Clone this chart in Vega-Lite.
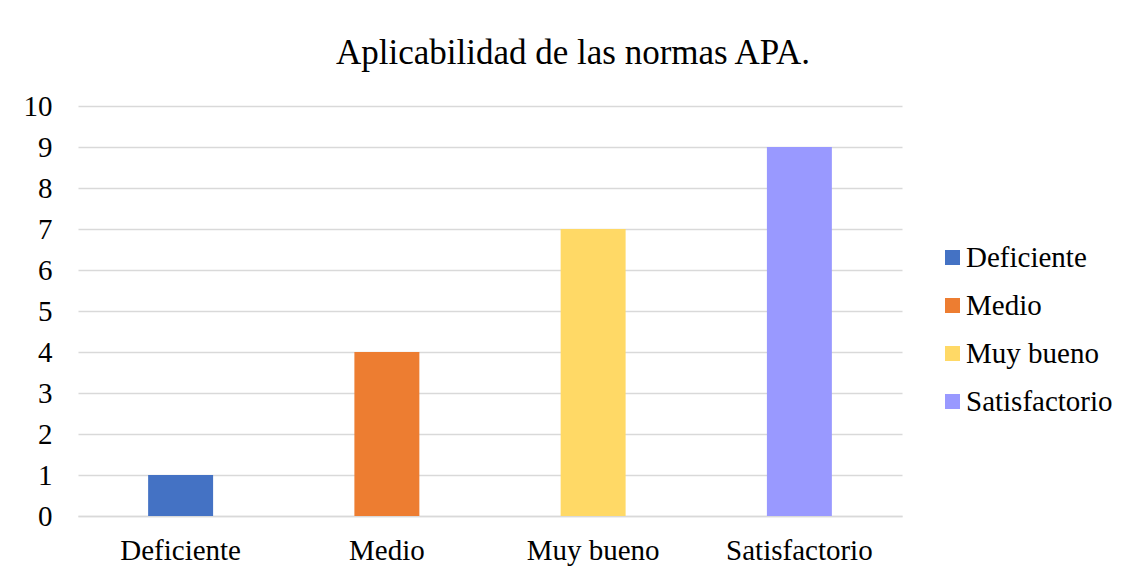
{
  "$schema": "https://vega.github.io/schema/vega-lite/v6.json",
  "autosize": "none",
  "width": 824,
  "height": 410,
  "padding": {"left": 78, "top": 106, "right": 228, "bottom": 59},
  "background": "white",
  "title": {
    "text": "Aplicabilidad de las normas APA.",
    "font": "Liberation Serif",
    "fontSize": 35,
    "fontWeight": "normal",
    "color": "#000000",
    "anchor": "middle",
    "dx": 83,
    "offset": 21
  },
  "data": {
    "values": [
      {"categoria": "Deficiente", "valor": 1},
      {"categoria": "Medio", "valor": 4},
      {"categoria": "Muy bueno", "valor": 7},
      {"categoria": "Satisfactorio", "valor": 9}
    ]
  },
  "mark": {"type": "bar"},
  "encoding": {
    "x": {
      "field": "categoria",
      "type": "nominal",
      "sort": null,
      "scale": {"paddingInner": 0.685, "paddingOuter": 0.34},
      "axis": {
        "title": null,
        "labelAngle": 0,
        "labelFont": "Liberation Serif",
        "labelFontSize": 29,
        "labelColor": "#000000",
        "labelPadding": 20,
        "ticks": false,
        "domainColor": "#D9D9D9",
        "domainWidth": 1.5
      }
    },
    "y": {
      "field": "valor",
      "type": "quantitative",
      "scale": {"domain": [0, 10], "nice": false},
      "axis": {
        "title": null,
        "values": [0, 1, 2, 3, 4, 5, 6, 7, 8, 9, 10],
        "labelOverlap": false,
        "labelFont": "Liberation Serif",
        "labelFontSize": 29,
        "labelColor": "#000000",
        "labelPadding": 26,
        "ticks": false,
        "domain": false,
        "gridColor": "#D9D9D9",
        "gridWidth": 1.5
      }
    },
    "color": {
      "field": "categoria",
      "type": "nominal",
      "sort": null,
      "scale": {
        "domain": ["Deficiente", "Medio", "Muy bueno", "Satisfactorio"],
        "range": ["#4472C4", "#ED7D31", "#FFD966", "#9999FF"]
      },
      "legend": {
        "title": null,
        "orient": "none",
        "legendX": 860,
        "legendY": 137,
        "symbolType": "square",
        "symbolSize": 225,
        "symbolStrokeWidth": 0,
        "labelFont": "Liberation Serif",
        "labelFontSize": 29,
        "labelColor": "#000000",
        "labelOffset": -1,
        "rowPadding": 18,
        "labelLimit": 300
      }
    }
  },
  "config": {"view": {"stroke": null}}
}
